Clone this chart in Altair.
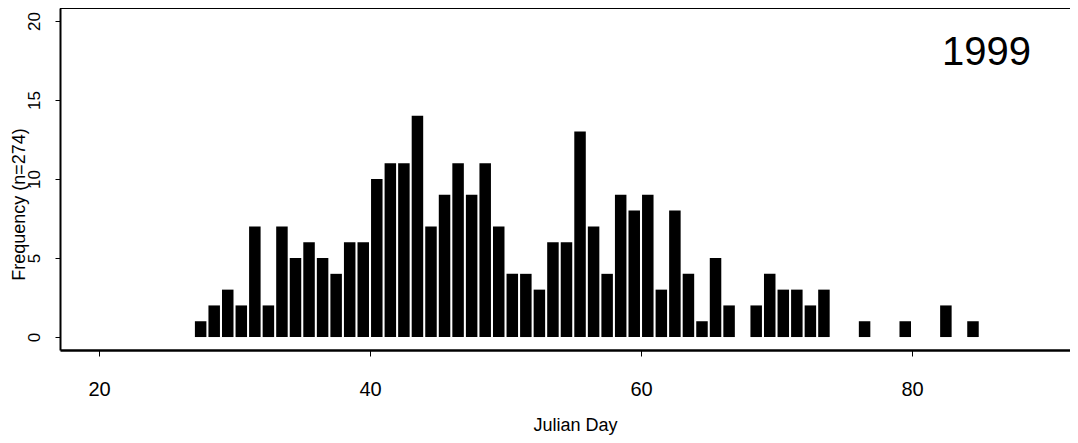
import altair as alt
import pandas as pd

# Histogram bins (Julian day, start of 1-day bin) and counts
days = list(range(27, 67)) + [68, 69, 70, 71, 72, 73, 76, 79, 82, 84]
counts = [1, 2, 3, 2, 7, 2, 7, 5, 6, 5, 4, 6, 6, 10, 11, 11, 14, 7, 9,
          11, 9, 11, 7, 4, 4, 3, 6, 6, 13, 7, 4, 9, 8, 9, 3, 8, 4, 1, 5, 2,
          2, 4, 3, 3, 2, 3, 1, 1, 2, 1]
x_ticks = [20, 40, 60, 80]
y_ticks = [0, 5, 10, 15, 20]
year_label = ["1999"]

df = pd.DataFrame({"day": days, "count": counts})

FONT = "Liberation Sans"
W, H = 1010, 342

x_scale = alt.Scale(domain=[17.12, 91.66], nice=False, zero=False, padding=0)
y_scale = alt.Scale(domain=[-0.82, 20.82], nice=False, zero=False, padding=0)

bars = alt.Chart(df).transform_calculate(
    mid="datum.day + 0.5"
).mark_bar(size=11.5, color="black").encode(
    x=alt.X("mid:Q", scale=x_scale,
            axis=alt.Axis(values=x_ticks, title="Julian Day", grid=False,
                          domainColor="black", domainWidth=2.5,
                          tickColor="black", tickSize=6, tickWidth=1,
                          labelFontSize=20, labelColor="black", labelFont=FONT,
                          labelPadding=39, labelBaseline="alphabetic",
                          labelFlush=False,
                          titleFont=FONT, titleFontSize=18, titleFontWeight="normal",
                          titleColor="black", titleX=515, titleY=80,
                          titleAlign="center", titleBaseline="alphabetic")),
    y=alt.Y("count:Q", scale=y_scale,
            axis=alt.Axis(values=y_ticks, title="Frequency (n=274)", grid=False,
                          domainColor="black", domainWidth=2,
                          tickColor="black", tickSize=5, tickWidth=1,
                          labelFontSize=17, labelColor="black", labelFont=FONT,
                          labelAngle=270, labelAlign="center",
                          labelBaseline="alphabetic", labelPadding=16,
                          labelFlush=False,
                          titleFont=FONT, titleFontSize=18, titleFontWeight="normal",
                          titleColor="black", titleAngle=270, titleX=-36, titleY=196,
                          titleAlign="center", titleBaseline="alphabetic")),
    y2=alt.datum(0),
)

year = alt.Chart(pd.DataFrame({"label": year_label})).mark_text(
    font=FONT, fontSize=40, color="black", align="center", baseline="alphabetic"
).encode(
    x=alt.datum(85.5),
    y=alt.datum(17.2),
    text="label:N",
)

top_line = alt.Chart(pd.DataFrame({"label": year_label})).mark_rule(
    color="black", strokeWidth=2
).encode(
    x=alt.value(0), x2=alt.value(W), y=alt.value(0)
)

chart = alt.layer(bars, year, top_line).properties(
    width=W, height=H,
    autosize=alt.AutoSizeParams(type="none"),
    padding={"left": 52, "top": 0, "right": 0, "bottom": 85},
).configure_view(stroke=None).configure(background="white")

chart.save("out.html", embed_options={"renderer": "svg", "actions": False})
